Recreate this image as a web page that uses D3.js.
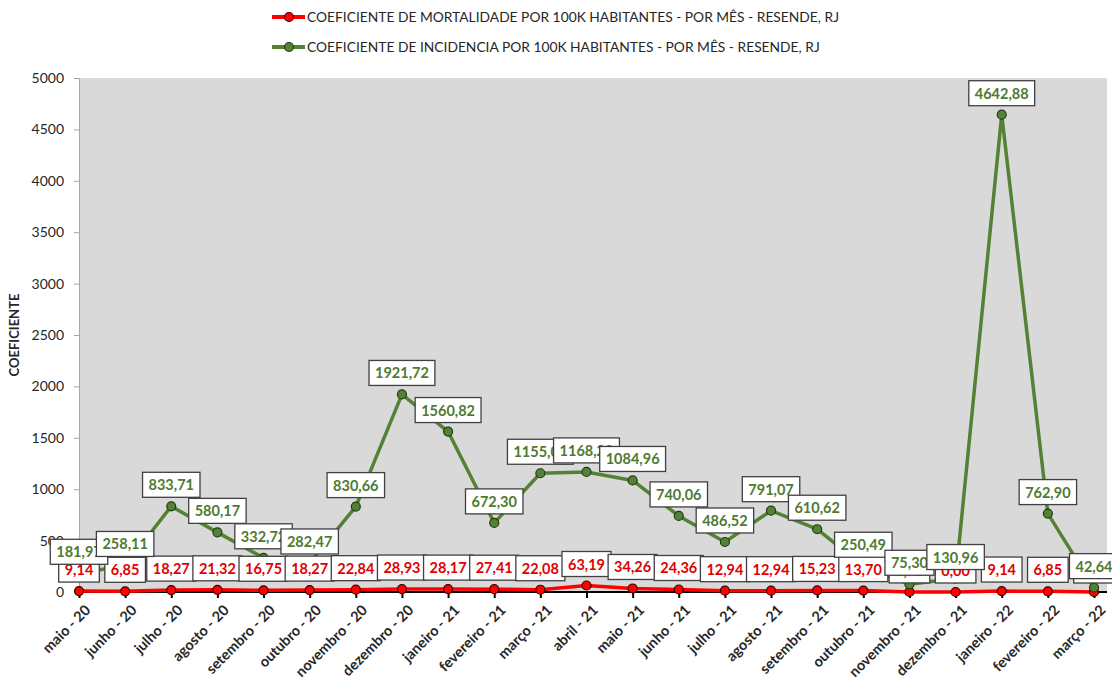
<!DOCTYPE html>
<html>
<head>
<meta charset="utf-8">
<script src="https://cdn.jsdelivr.net/npm/d3@7"></script>
<style>
  body { margin: 0; background: #fff; }
  svg { display: block; font-family: Lato, 'Open Sans', sans-serif; }
</style>
</head>
<body>
<div id="chart"></div>
<script>
// Months (x categories)
const meses = ['maio - 20', 'junho - 20', 'julho - 20', 'agosto - 20', 'setembro - 20', 'outubro - 20',
    'novembro - 20', 'dezembro - 20', 'janeiro - 21', 'fevereiro - 21', 'março - 21', 'abril - 21',
    'maio - 21', 'junho - 21', 'julho - 21', 'agosto - 21', 'setembro - 21', 'outubro - 21',
    'novembro - 21', 'dezembro - 21', 'janeiro - 22', 'fevereiro - 22', 'março - 22'];

// Mortality coefficient per 100k
const mortalidade = [9.14, 6.85, 18.27, 21.32, 16.75, 18.27, 22.84, 28.93, 28.17, 27.41, 22.08, 63.19,
    34.26, 24.36, 12.94, 12.94, 15.23, 13.70, 0.76, 0.00, 9.14, 6.85, 0.00];

// Incidence coefficient per 100k
const incidencia = [181.97, 258.11, 833.71, 580.17, 332.72, 282.47, 830.66, 1921.72, 1560.82, 672.30,
    1155.06, 1168.20, 1084.96, 740.06, 486.52, 791.07, 610.62, 250.49, 75.30, 130.96, 4642.88, 762.90, 42.64];

const yTicks = [0, 500, 1000, 1500, 2000, 2500, 3000, 3500, 4000, 4500, 5000];

const series = [
    { name: 'COEFICIENTE DE MORTALIDADE POR 100K HABITANTES - POR MÊS - RESENDE, RJ', values: mortalidade,
      line: '#ff0000', dot: '#ff0000', dotStroke: '#3a0000', text: '#e00000' },
    { name: 'COEFICIENTE DE INCIDENCIA POR 100K HABITANTES - POR MÊS - RESENDE, RJ', values: incidencia,
      line: '#548235', dot: '#548235', dotStroke: '#233a14', text: '#4e7a31' }
];

const width = 1112, height = 681;
const plot = { left: 79, right: 1107, top: 78, bottom: 592 };

const svg = d3.select('#chart').append('svg')
    .attr('width', width)
    .attr('height', height);

const x = d3.scalePoint()
    .domain(meses)
    .range([plot.left, 1094]);

const y = d3.scaleLinear()
    .domain([0, 5000])
    .range([plot.bottom, plot.top]);

// plot background
svg.append('rect')
    .attr('x', plot.left)
    .attr('y', plot.top)
    .attr('width', plot.right - plot.left)
    .attr('height', plot.bottom - plot.top)
    .attr('fill', '#d9d9d9');

// y axis
const yAxis = d3.axisLeft(y).tickValues(yTicks).tickSize(5).tickPadding(10).tickFormat(d => d);
const gY = svg.append('g')
    .attr('transform', `translate(${plot.left},0)`)
    .call(yAxis);
gY.select('.domain').attr('stroke', '#a6a6a6');
gY.selectAll('.tick line').attr('stroke', '#a6a6a6');
gY.selectAll('.tick text')
    .attr('fill', '#262626')
    .style('font-size', '14px')
    .style('font-family', "Lato, sans-serif");

svg.append('text')
    .attr('transform', `translate(19,${(plot.top + plot.bottom) / 2}) rotate(-90)`)
    .attr('text-anchor', 'middle')
    .attr('fill', '#262626')
    .style('font-size', '13px')
    .style('font-weight', 'bold')
    .text('COEFICIENTE');

// x axis
const xAxis = d3.axisBottom(x).tickSize(6).tickSizeOuter(0).tickFormat(d => d);
const gX = svg.append('g')
    .attr('transform', `translate(0,${plot.bottom})`)
    .call(xAxis);
gX.select('.domain').attr('stroke', '#000').attr('stroke-width', 2)
    .attr('d', `M${plot.left},0H${plot.right}`);
gX.selectAll('.tick line').attr('stroke', '#000').attr('stroke-width', 2);
gX.selectAll('.tick text')
    .attr('text-anchor', 'end')
    .attr('fill', '#262626')
    .attr('transform', 'translate(3,10) rotate(-45)')
    .attr('dy', '0.6em')
    .attr('y', 4)
    .style('font-size', '14.5px')
    .style('font-weight', 'bold')
    .style('font-family', "Lato, sans-serif");

// lines and markers
const line = d3.line()
    .x((d, i) => x(meses[i]))
    .y(d => y(d));

series.forEach(s => {
    svg.append('path')
        .datum(s.values)
        .attr('fill', 'none')
        .attr('stroke', s.line)
        .attr('stroke-width', 3.5)
        .attr('stroke-linejoin', 'round')
        .attr('d', line);
    svg.append('g')
        .selectAll('circle')
        .data(s.values)
        .enter()
        .append('circle')
        .attr('cx', (d, i) => x(meses[i]))
        .attr('cy', d => y(d))
        .attr('r', 4.5)
        .attr('fill', s.dot)
        .attr('stroke', s.dotStroke)
        .attr('stroke-width', 1.2);
});

// data labels (boxes above each point)
const fmt = v => v.toFixed(2).replace('.', ',');
series.forEach(s => {
    const g = svg.append('g');
    s.values.forEach((v, i) => {
        const cx = x(meses[i]);
        const cy = y(v);
        const lg = g.append('g');
        const t = lg.append('text')
            .attr('x', cx)
            .attr('y', cy - 16)
            .attr('text-anchor', 'middle')
            .attr('fill', s.text)
            .style('font-size', '14.5px')
            .style('font-weight', 'bold')
            .text(fmt(v));
        const w = t.node().getComputedTextLength() + 12;
        lg.insert('rect', 'text')
            .attr('x', cx - w / 2)
            .attr('y', cy - 34)
            .attr('width', w)
            .attr('height', 25)
            .attr('fill', '#fff')
            .attr('stroke', '#404040')
            .attr('stroke-width', 1.3);
    });
});

// legend
const legend = svg.append('g');
series.forEach((s, i) => {
    const ly = 17 + i * 30;
    legend.append('line')
        .attr('x1', 272).attr('x2', 305)
        .attr('y1', ly).attr('y2', ly)
        .attr('stroke', s.line)
        .attr('stroke-width', 4);
    legend.append('circle')
        .attr('cx', 289).attr('cy', ly)
        .attr('r', 4.5)
        .attr('fill', s.dot)
        .attr('stroke', s.dotStroke)
        .attr('stroke-width', 1.2);
    legend.append('text')
        .attr('x', 307)
        .attr('y', ly + 5)
        .attr('fill', '#262626')
        .style('font-size', '13.8px')
        .text(s.name);
});
</script>
</body>
</html>
